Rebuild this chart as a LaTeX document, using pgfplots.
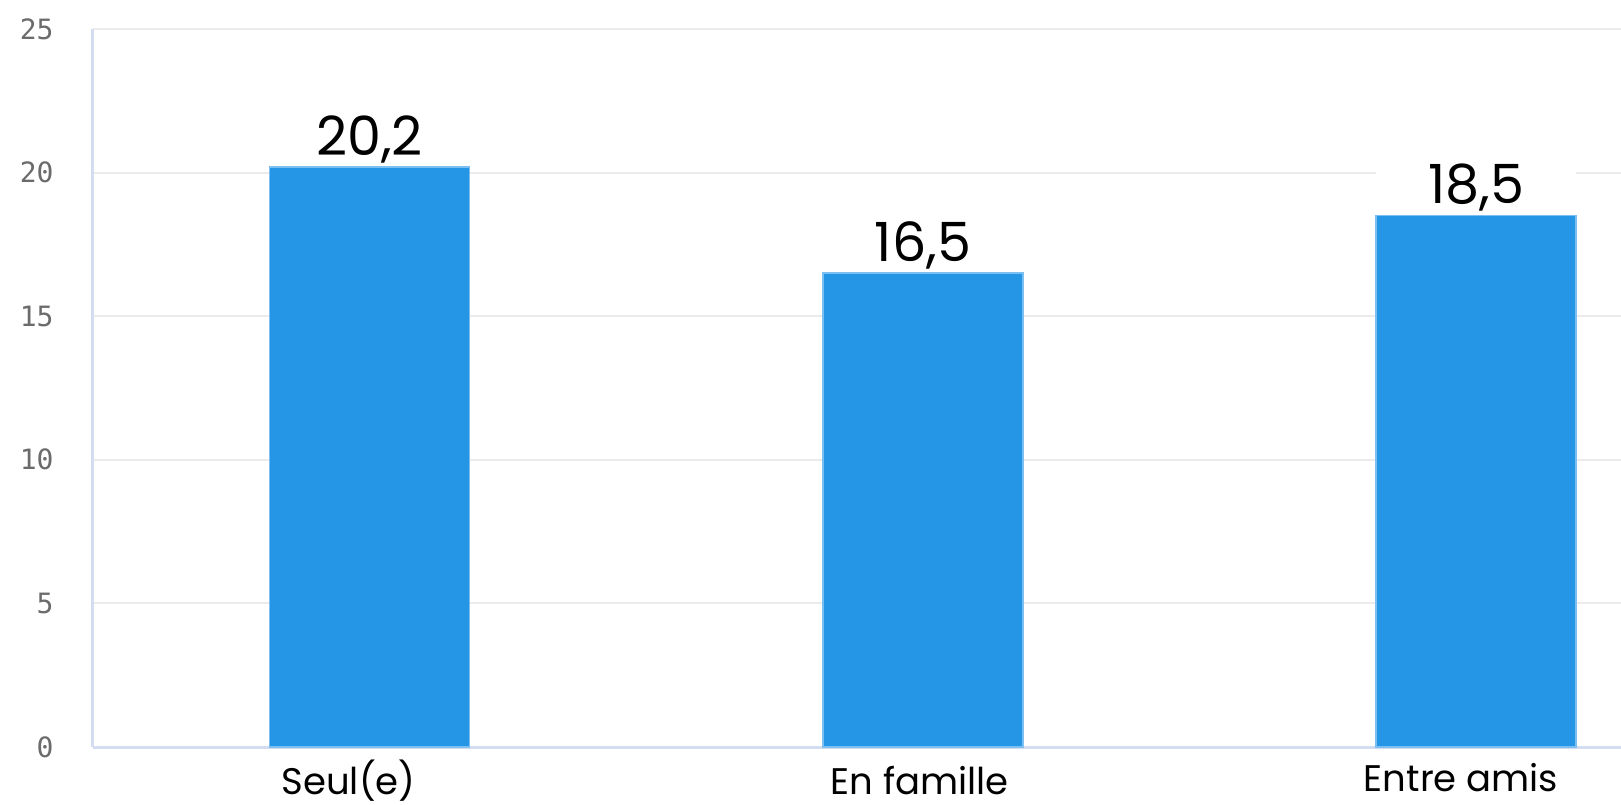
\documentclass[border=0pt]{standalone}
\usepackage{pgfplots}
\pgfplotsset{compat=1.18}
\usepackage{fontspec}
\setmainfont{Poppins}
\newfontfamily\tickfont{DejaVu Sans Mono}
\definecolor{barblue}{HTML}{2596E6}
\definecolor{baredge}{HTML}{7CC0F2}
\definecolor{gridgray}{HTML}{EBEBEB}
\definecolor{axisblue}{HTML}{D3DCF0}
\definecolor{tickgray}{HTML}{6B6B6B}

\begin{document}
\begin{tikzpicture}
\begin{axis}[
  scale only axis, width=764pt, height=359pt,
  xmin=-0.5, xmax=2.262, ymin=0, ymax=25,
  /pgf/number format/assume math mode=true,
  axis lines=left, axis line style={-, draw=axisblue, line width=1.5pt},
  ytick={0,5,...,25}, ymajorgrids, grid style={draw=gridgray, line width=1pt},
  major tick length=0pt,
  yticklabel style={font=\tickfont\fontsize{14}{14}\selectfont, text=tickgray,
    anchor=east, inner sep=0pt, xshift=-19.5pt},
  xtick={0,1,2},
  xticklabels={\hspace*{-21pt}Seul(e),
               \hspace*{-3pt}En famille,
               \hspace*{-15pt}\raisebox{1.5pt}{Entre amis}},
  xticklabel style={font=\fontsize{18.5}{19}\selectfont, anchor=base, yshift=-23.5pt},
  ybar, bar width=100pt,
  nodes near coords={\pgfmathprintnumber[use comma,fixed,precision=1,fixed zerofill,assume math mode=true]{\pgfplotspointmeta}},
  nodes near coords style={font=\fontsize{27}{27}\selectfont, anchor=south,
    fill=white, minimum width=100pt, inner xsep=0pt, inner ysep=3pt, text depth=2.5pt},
]
\addplot[fill=barblue, draw=baredge, line width=0.75pt] coordinates {(0,20.2) (1,16.5) (2,18.5)};
\end{axis}
\pgfresetboundingbox
\path[use as bounding box] ([xshift=-46.5pt, yshift=-28.5pt]current axis.south west)
  rectangle ([yshift=14.5pt]current axis.north east);
\end{tikzpicture}
\end{document}
